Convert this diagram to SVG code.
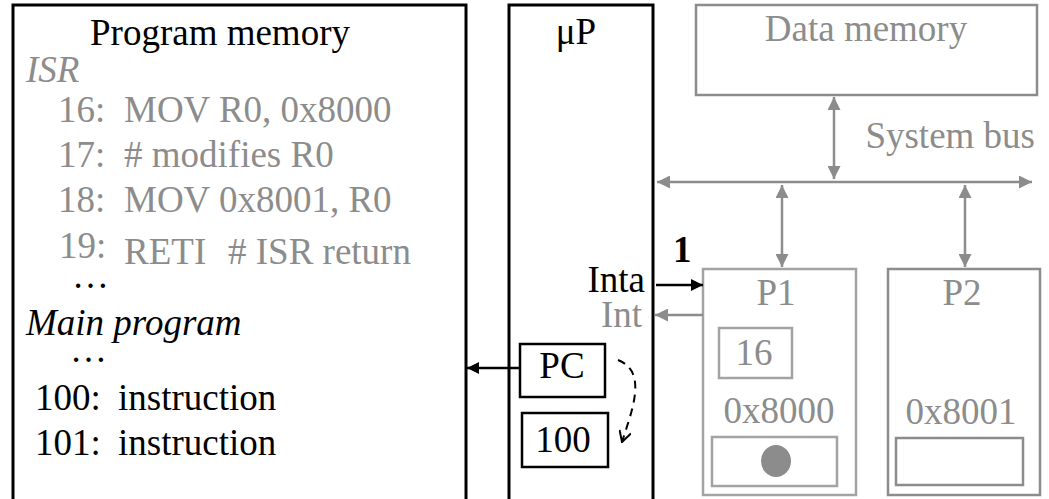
<svg xmlns="http://www.w3.org/2000/svg" width="1049" height="499" viewBox="0 0 1049 499">
<style>
text{font-family:"Liberation Serif","Times New Roman",serif;font-size:37px;fill:#000}
.g{fill:#8c8c8c}
.it{font-style:italic}
.blk{fill:none;stroke:#000;stroke-width:3}
.box{fill:#fff;stroke:#000;stroke-width:2.5}
.gbox{fill:none;stroke:#8c8c8c;stroke-width:2.5}
.gbox2{fill:none;stroke:#a3a3a3;stroke-width:2.5}
.gline{fill:none;stroke:#8c8c8c;stroke-width:2.5}
.bline{fill:none;stroke:#000;stroke-width:2.5}
</style>
<defs>
<marker id="ga" viewBox="0 0 10 10" refX="10" refY="5" markerWidth="5.8" markerHeight="5.2" orient="auto-start-reverse" markerUnits="strokeWidth">
<path d="M0,0 L10,5 L0,10 z" fill="#8c8c8c"/>
</marker>
<marker id="ba" viewBox="0 0 10 10" refX="10" refY="5" markerWidth="6" markerHeight="4.8" orient="auto" markerUnits="strokeWidth">
<path d="M0,0 L10,5 L0,10 z" fill="#000"/>
</marker>
<marker id="oa" viewBox="0 0 12 12" refX="11" refY="6" markerWidth="13" markerHeight="13" orient="auto" markerUnits="userSpaceOnUse">
<path d="M1,0.5 L11,6 L1,11.5" fill="none" stroke="#000" stroke-width="1.8"/>
</marker>
</defs>

<g id="program-memory">
<rect class="blk" x="13" y="5" width="453" height="500"/>
<text x="90" y="45">Program memory</text>
<text class="g it" x="26" y="82">ISR</text>
<text class="g" y="122"><tspan x="58">16:</tspan><tspan x="124">MOV R0, 0x8000</tspan></text>
<text class="g" y="167"><tspan x="58">17:</tspan><tspan x="124"># modifies R0</tspan></text>
<text class="g" y="212"><tspan x="58">18:</tspan><tspan x="124">MOV 0x8001, R0</tspan></text>
<text class="g" x="59" y="258">19:</text>
<text class="g" y="264"><tspan x="124">RETI</tspan><tspan x="228"># ISR return</tspan></text>
<text x="72" y="288" font-size="31">…</text>
<text class="it" x="26" y="335">Main program</text>
<text x="70" y="362" font-size="31">…</text>
<text y="410"><tspan x="35">100:</tspan><tspan x="118">instruction</tspan></text>
<text y="455"><tspan x="35">101:</tspan><tspan x="118">instruction</tspan></text>
</g>

<g id="microprocessor">
<rect class="blk" x="509" y="5" width="144" height="500"/>
<text x="576" y="44" text-anchor="middle">μP</text>
<text x="645" y="292" text-anchor="end">Inta</text>
<text class="g" x="642" y="327" text-anchor="end">Int</text>
</g>

<g id="pc">
<rect class="box" x="520" y="344" width="85" height="53"/>
<text x="562" y="378" text-anchor="middle">PC</text>
</g>

<g id="saved-pc">
<rect class="box" x="522" y="413" width="86" height="54"/>
<text x="563" y="452" text-anchor="middle">100</text>
</g>

<g id="data-memory">
<rect class="gbox" x="696" y="5" width="341" height="90"/>
<text class="g" x="866" y="41" text-anchor="middle">Data memory</text>
</g>

<g id="system-bus-label">
<text class="g" x="1035" y="148" text-anchor="end">System bus</text>
</g>

<g id="p1">
<rect class="gbox2" x="703" y="269" width="153" height="226"/>
<text class="g" x="776" y="305" text-anchor="middle">P1</text>
<rect class="gbox2" x="719" y="328" width="73" height="50"/>
<text class="g" x="754" y="365" text-anchor="middle">16</text>
<text class="g" x="779" y="423" text-anchor="middle">0x8000</text>
<rect class="gbox2" x="712" y="437" width="125" height="49"/>
<ellipse cx="776" cy="461" rx="15" ry="16" fill="#8c8c8c"/>
</g>

<g id="p2">
<rect class="gbox" x="888" y="269" width="152" height="226"/>
<text class="g" x="962" y="305" text-anchor="middle">P2</text>
<text class="g" x="961" y="424" text-anchor="middle">0x8001</text>
<rect class="gbox" x="896" y="438" width="127" height="47"/>
</g>

<g id="connectors">
<line class="gline" x1="834" y1="97" x2="834" y2="179" marker-start="url(#ga)" marker-end="url(#ga)"/>
<line class="gline" x1="657" y1="182" x2="1032" y2="182" marker-start="url(#ga)" marker-end="url(#ga)"/>
<line class="gline" x1="782" y1="185" x2="782" y2="267" marker-start="url(#ga)" marker-end="url(#ga)"/>
<line class="gline" x1="965" y1="185" x2="965" y2="267" marker-start="url(#ga)" marker-end="url(#ga)"/>
<line class="bline" x1="656" y1="285" x2="703" y2="285" marker-end="url(#ba)"/>
<line class="gline" x1="703" y1="315" x2="655" y2="315" marker-end="url(#ga)"/>
<line class="bline" x1="520" y1="368" x2="467" y2="368" marker-end="url(#ba)"/>
<path d="M618,360 C648,372 632,410 622,442" fill="none" stroke="#000" stroke-width="2" stroke-dasharray="8,6" marker-end="url(#oa)"/>
<text x="673" y="262" font-size="28" font-weight="bold">1</text>
</g>
</svg>
